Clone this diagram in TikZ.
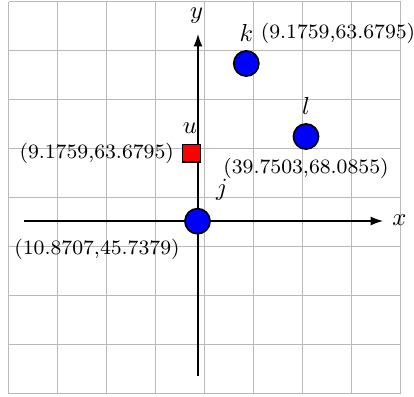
\documentclass[tikz,border=0pt]{standalone}
\usetikzlibrary{arrows.meta}
\begin{document}
\begin{tikzpicture}[x=0.014286cm,y=-0.014286cm,
  gridline/.style={gray!55,line width=0.5pt},
  axisline/.style={black,line width=0.5pt,-{Latex[length=5pt,width=3.6pt]}},
  ptcircle/.style={circle,draw=black,fill=blue,line width=0.7pt,minimum size=10.2pt,inner sep=0pt},
  ptsquare/.style={rectangle,draw=black,fill=red,line width=0.5pt,minimum size=7.2pt,inner sep=0pt},
  letterlbl/.style={inner sep=0pt,font=\normalsize},
  coordlbl/.style={inner sep=0pt,font=\fontsize{8.3}{10}\selectfont}]
\useasboundingbox (0,0) rectangle (414,396);
\foreach \i in {0,...,8} {
  \draw[gridline] (8.5+49*\i,1.5) -- (8.5+49*\i,393.5);
  \draw[gridline] (8.5,1.5+49*\i) -- (400.5,1.5+49*\i);
}
\coordinate (xs) at (24,221);
\coordinate (xe) at (383,221);
\coordinate (ys) at (198,376);
\coordinate (ye) at (198,34);
\draw[axisline] (xs) -- (xe);
\draw[axisline] (ys) -- (ye);
\node[letterlbl] (xl) at (399.5,220) {$x$};
\node[letterlbl] (yl) at (196.5,15.5) {$y$};
\node[ptcircle] (j) at (197.5,221.2) {};
\node[ptcircle] (k) at (246.3,63.5) {};
\node[ptcircle] (l) at (306,136.5) {};
\node[ptsquare] (u) at (191.3,153.2) {};
\node[letterlbl] (jl) at (222,190) {$j$};
\node[letterlbl] (kl) at (246.3,33) {$k$};
\node[letterlbl] (ll) at (306,106) {$l$};
\node[letterlbl] (ul) at (190,128) {$u$};
\node[coordlbl] (jc) at (97,249) {(10.8707,45.7379)};
\node[coordlbl] (kc) at (338,33.5) {(9.1759,63.6795)};
\node[coordlbl] (lc) at (306,168.5) {(39.7503,68.0855)};
\node[coordlbl] (uc) at (96.7,153.5) {(9.1759,63.6795)};
\end{tikzpicture}
\end{document}
